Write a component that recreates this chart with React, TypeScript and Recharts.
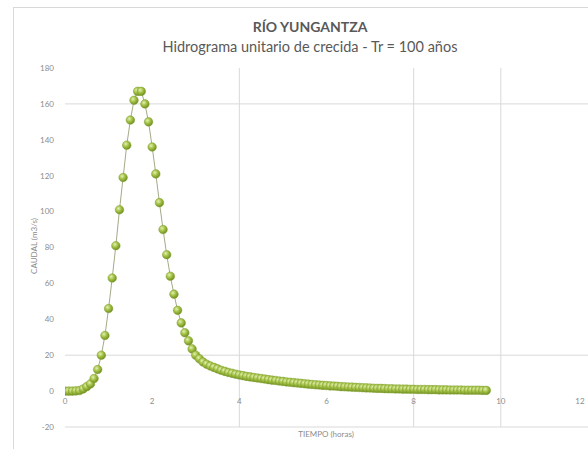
import React from 'react';
import { LineChart, Line, XAxis, YAxis, CartesianGrid } from 'recharts';

// hidrograma unitario, paso de 5 min
const STEP_MIN = 5;
const caudal = [
  0, 0, 0, 0.1, 0.3, 1.2, 2.5, 4, 7, 12,
  20, 31, 46, 63, 81, 101, 119, 137, 151, 162,
  167, 167, 160, 150, 136, 121, 105, 90, 76, 64,
  54, 45, 38, 32.5, 28, 23.5, 20, 18, 16.2, 15,
  14, 13.2, 12.4, 11.6, 11, 10.4, 9.9, 9.4, 9, 8.6,
  8.2, 7.9, 7.6, 7.3, 7, 6.7, 6.4, 6.1, 5.9, 5.6,
  5.4, 5.1, 4.9, 4.7, 4.5, 4.3, 4.1, 3.9, 3.7, 3.5,
  3.4, 3.2, 3.1, 2.9, 2.8, 2.7, 2.5, 2.4, 2.3, 2.2,
  2.1, 2, 1.9, 1.8, 1.7, 1.6, 1.5, 1.5, 1.4, 1.3,
  1.3, 1.2, 1.2, 1.1, 1.1, 1, 1, 0.9, 0.9, 0.9,
  0.8, 0.8, 0.8, 0.7, 0.7, 0.7, 0.6, 0.6, 0.6, 0.6,
  0.5, 0.5, 0.5, 0.5, 0.5, 0.4, 0.4,
];
const yTicks = [-20, 0, 20, 40, 60, 80, 100, 120, 140, 160, 180];
const xTicks = [0, 2, 4, 6, 8, 10, 12];

const data = caudal.map((q, i) => ({ t: (i * STEP_MIN) / 60, q }));

const font = 'Lato, "Open Sans", sans-serif';
const grey = '#8c8c8c';

const Sphere = (props: any) => {
  const { cx, cy, index } = props;
  return (
    <g key={`d${index}`}>
      {index === 0 && (
        <defs>
          <radialGradient id="sph" cx="38%" cy="35%" r="65%">
            <stop offset="0%" stopColor="#e4f0b4" />
            <stop offset="45%" stopColor="#a9c64c" />
            <stop offset="100%" stopColor="#70901f" />
          </radialGradient>
        </defs>
      )}
      <circle cx={cx} cy={cy} r={4.3} fill="url(#sph)" stroke="#82a033" strokeWidth={0.5} />
    </g>
  );
};

const XTick = (props: any) => {
  const { x, payload } = props;
  return (
    <text x={x} y={404} textAnchor="middle" fontSize={8} fill={grey} fontFamily={font}>
      {payload.value}
    </text>
  );
};

const App: React.FC = () => {
  return (
    <div style={{ position: 'absolute', left: 0, top: 0, width: 588, height: 449, background: '#fff', overflow: 'hidden' }}>
      <div style={{ position: 'absolute', left: 13, top: 7, width: 600, height: 460, border: '1px solid #d9d9d9' }} />
      <div style={{ position: 'absolute', left: 110, top: 18, width: 400, textAlign: 'center', fontFamily: font, fontSize: 14, lineHeight: '17px', fontWeight: 700, color: '#595959' }}>
        RÍO YUNGANTZA
      </div>
      <div style={{ position: 'absolute', left: 60, top: 38, width: 500, textAlign: 'center', fontFamily: font, fontSize: 14.5, lineHeight: '17px', color: '#595959' }}>
        Hidrograma unitario de crecida - Tr = 100 años
      </div>
      <div style={{ position: 'absolute', left: 0, top: 0 }}>
        <LineChart width={588} height={449} data={data} margin={{ top: 68, right: 0, bottom: 0, left: 25 }}>
          <CartesianGrid horizontalValues={[20, 160]} verticalValues={[4, 8, 10]} stroke="#d9d9d9" />
          <XAxis
            dataKey="t"
            type="number"
            domain={[0, 12]}
            ticks={xTicks}
            height={22}
            tick={<XTick />}
            tickLine={false}
            axisLine={{ stroke: '#d9d9d9' }}
            allowDataOverflow
            label={{
              content: () => (
                <text x={326} y={437} textAnchor="middle" fontSize={8} fill={grey} fontFamily={font}>
                  TIEMPO (horas)
                </text>
              ),
            }}
          />
          <YAxis
            type="number"
            domain={[-20, 180]}
            ticks={yTicks}
            width={40}
            tickSize={0}
            tickMargin={11}
            tickLine={false}
            axisLine={false}
            tick={{ fontSize: 8, fill: grey, fontFamily: font }}
            label={{
              content: () => (
                <text x={37} y={246} transform="rotate(-90 37 246)" textAnchor="middle" fontSize={8} fill={grey} fontFamily={font}>
                  CAUDAL (m3/s)
                </text>
              ),
            }}
          />
          <Line
            type="linear"
            dataKey="q"
            stroke="#a3ab88"
            strokeWidth={1}
            dot={Sphere}
            activeDot={false}
            isAnimationActive={false}
          />
        </LineChart>
      </div>
    </div>
  );
};

export default App;
